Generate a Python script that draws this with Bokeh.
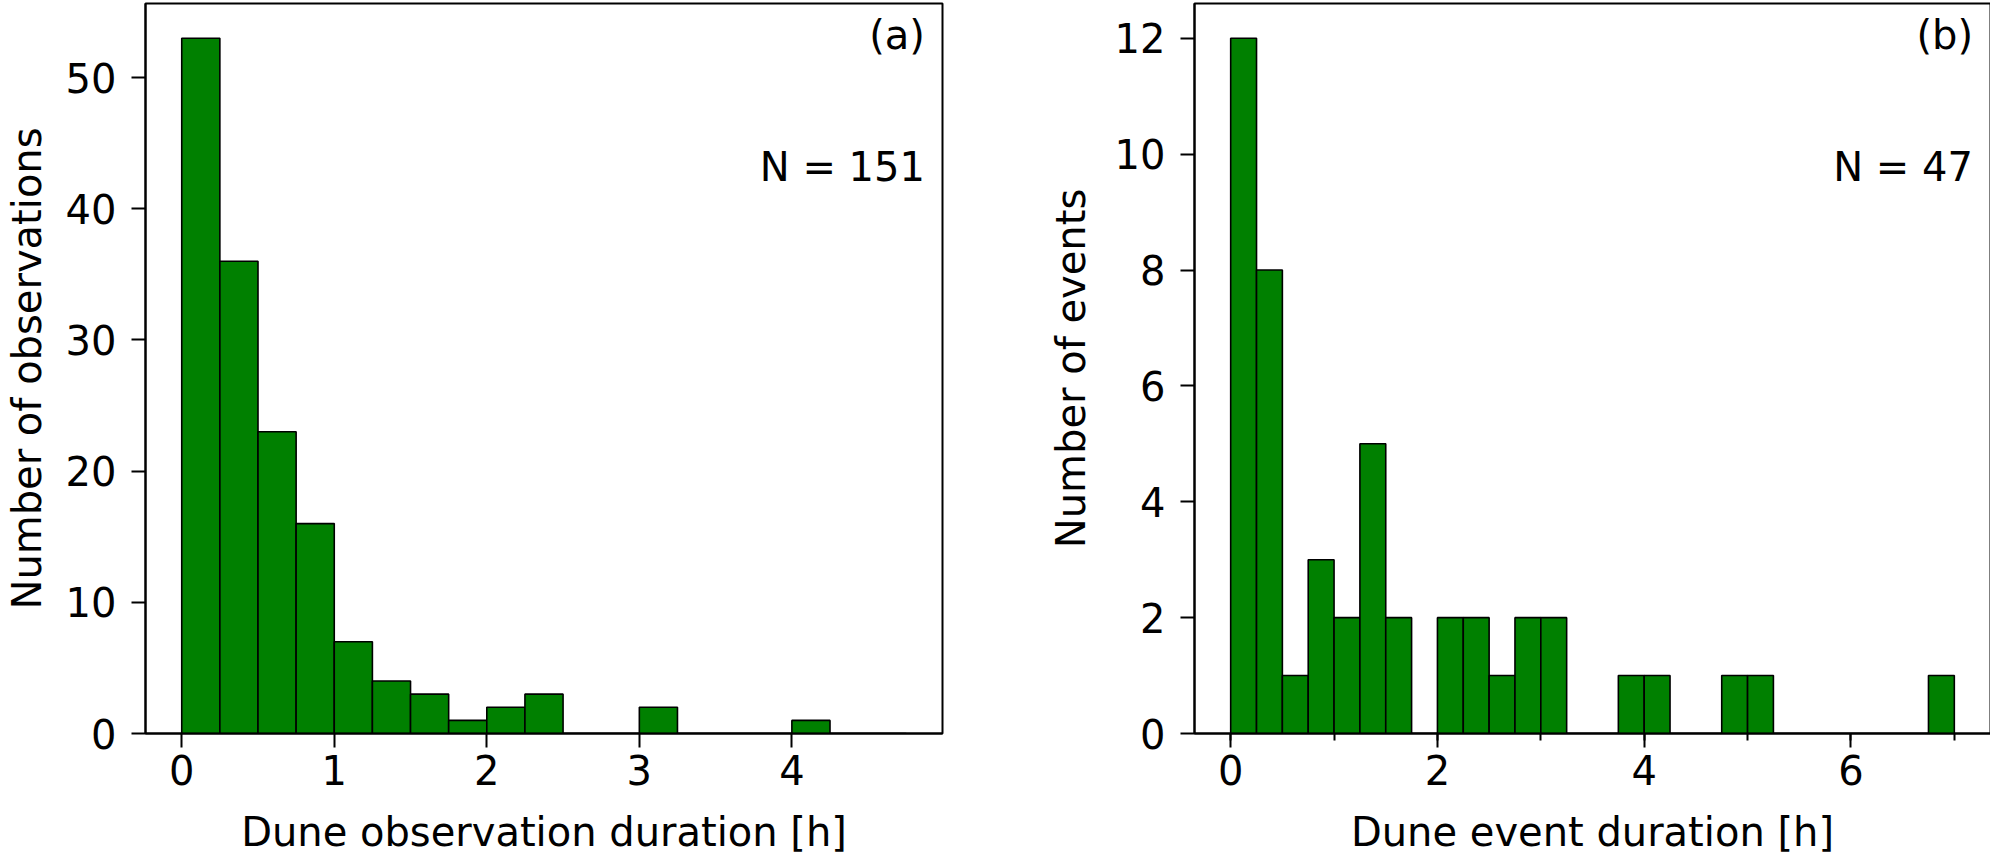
from bokeh.plotting import figure
from bokeh.layouts import row
from bokeh.models import Range1d, SingleIntervalTicker, Label
from bokeh.embed import file_html
from bokeh.resources import INLINE

# ---- data ----
bin_width = 0.25
counts_a = [53, 36, 23, 16, 7, 4, 3, 1, 2, 3, 0, 0, 2, 0, 0, 0, 1, 0, 0]
counts_b = [12, 8, 1, 3, 2, 5, 2, 0, 2, 2, 1, 2, 2, 0, 0, 1, 1, 0, 0, 1, 1,
            0, 0, 0, 0, 0, 0, 1]
xlabel_a = "Dune observation duration [h]"
ylabel_a = "Number of observations"
xlabel_b = "Dune event duration [h]"
ylabel_b = "Number of events"
tag_a, tag_b = "(a)", "(b)"
n_a = "N = 151"
n_b = "N = 47"

FONT = "DejaVu Sans"
FS = "40px"
GREEN = "#008000"


def make_panel(counts, xlabel, ylabel, tag, ntext, xrng, yrng, xint, yint,
               xminor, frame_w, border_l, border_r, ylab_standoff):
    p = figure(output_backend="svg", toolbar_location=None,
               frame_width=frame_w, frame_height=730,
               min_border_left=border_l, min_border_right=border_r,
               min_border_top=3, min_border_bottom=123,
               x_range=Range1d(*xrng), y_range=Range1d(*yrng),
               background_fill_color="white", border_fill_color="white")
    left = [i * bin_width for i in range(len(counts))]
    right = [(i + 1) * bin_width for i in range(len(counts))]
    p.quad(left=left, right=right, top=counts, bottom=0,
           fill_color=GREEN, line_color="black", line_width=1.6)
    p.grid.visible = False
    p.outline_line_color = "black"
    p.outline_line_width = 2
    p.xaxis.ticker = SingleIntervalTicker(interval=xint,
                                          num_minor_ticks=xminor)
    p.yaxis.ticker = SingleIntervalTicker(interval=yint, num_minor_ticks=0)
    for ax in (p.xaxis, p.yaxis):
        ax.axis_line_color = "black"
        ax.axis_line_width = 2
        ax.major_tick_line_color = "black"
        ax.major_tick_line_width = 2
        ax.major_tick_out = 14
        ax.major_tick_in = 0
        ax.minor_tick_line_color = "black"
        ax.minor_tick_line_width = 2
        ax.minor_tick_out = 7
        ax.minor_tick_in = 0
        ax.major_label_text_font = FONT
        ax.major_label_text_font_size = FS
        ax.major_label_text_color = "black"
        ax.axis_label_text_font = FONT
        ax.axis_label_text_font_size = FS
        ax.axis_label_text_font_style = "normal"
        ax.axis_label_text_color = "black"
    p.xaxis.axis_label = xlabel
    p.yaxis.axis_label = ylabel
    p.xaxis.major_label_standoff = 7
    p.xaxis.axis_label_standoff = 21
    p.yaxis.major_label_standoff = 15
    p.yaxis.axis_label_standoff = ylab_standoff
    if xminor == 0:
        p.xaxis.minor_tick_out = 0

    xs, xe = xrng
    ys, ye = yrng
    fx = 0.978
    p.add_layout(Label(x=xs + fx * (xe - xs), y=ys + 0.957 * (ye - ys),
                       text=tag, text_align="right",
                       text_baseline="alphabetic", text_font=FONT,
                       text_font_size=FS, text_color="black"))
    p.add_layout(Label(x=xs + fx * (xe - xs), y=ys + 0.776 * (ye - ys),
                       text=ntext, text_align="right",
                       text_baseline="alphabetic", text_font=FONT,
                       text_font_size=FS, text_color="black"))
    return p


pa = make_panel(counts_a, xlabel_a, ylabel_a, tag_a, n_a,
                (-0.2375, 4.9875), (0, 55.65), 1, 10, 0,
                797, 140, 63, 13)
pb = make_panel(counts_b, xlabel_b, ylabel_b, tag_b, n_b,
                (-0.35, 7.35), (0, 12.6), 2, 2, 2,
                796, 189, 5, 18)

layout = row(pa, pb)
open("out.html", "w").write(file_html(layout, INLINE))
